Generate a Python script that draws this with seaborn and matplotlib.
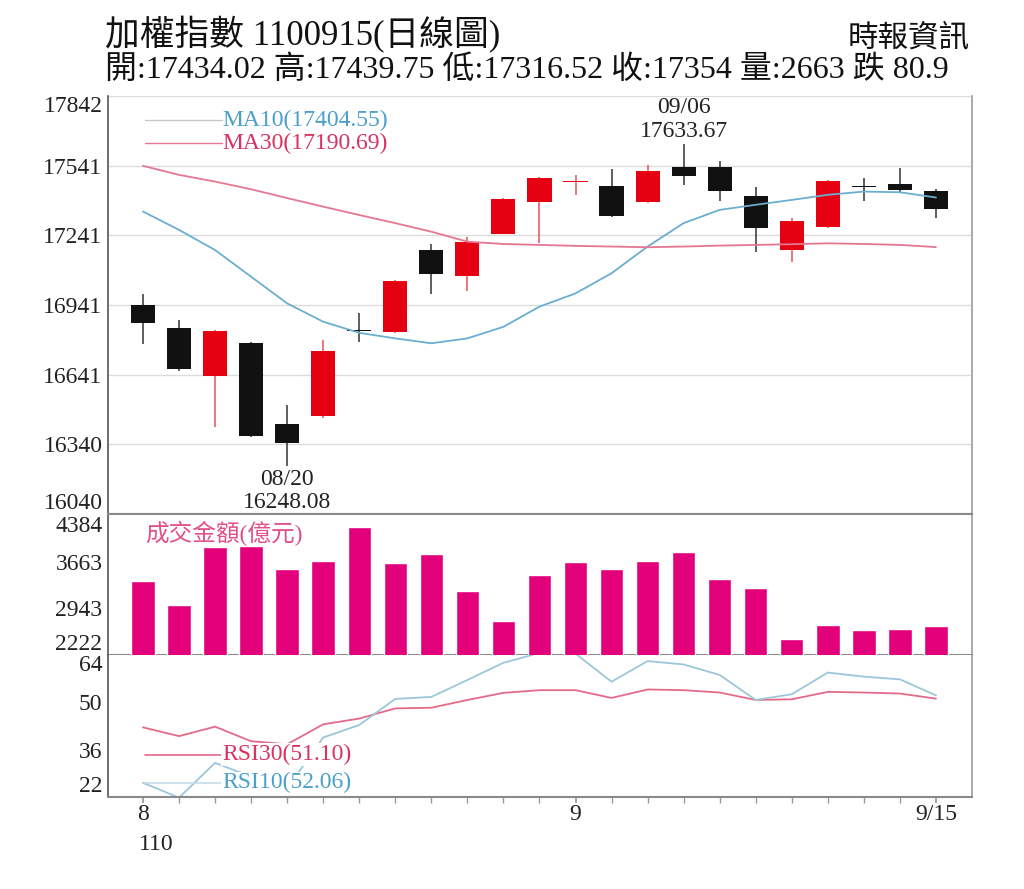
import matplotlib
matplotlib.use("Agg")
import matplotlib.pyplot as plt
import seaborn as sns

#-------------------------------------------------------------------------

# Trading days shown (Aug 16 - Sep 15, ROC year 110)
days = ["08/16", "08/17", "08/18", "08/19", "08/20", "08/23", "08/24", "08/25",
        "08/26", "08/27", "08/30", "08/31", "09/01", "09/02", "09/03", "09/06",
        "09/07", "09/08", "09/09", "09/10", "09/13", "09/14", "09/15"]

opens = [16941, 16842, 16636, 16778, 16430, 16462, 16835, 16826, 17178, 17067, 17247, 17387,
         17470, 17456, 17384, 17535, 17535, 17411, 17178, 17276, 17452, 17462, 17434.02]
highs = [16988, 16876, 16835, 16782, 16509, 16790, 16908, 17050, 17203, 17236, 17402, 17492,
         17502, 17527, 17545, 17633.67, 17563, 17449, 17315, 17480, 17488, 17531, 17439.75]
lows = [16773, 16656, 16416, 16370, 16248.08, 16455, 16782, 16822, 16988, 17001, 17245, 17210,
        17416, 17322, 17380, 17459, 17390, 17168, 17125, 17272, 17390, 17423, 17316.52]
closes = [16862, 16663, 16830, 16375, 16344, 16744, 16828, 17046, 17073, 17213, 17399, 17489,
          17476, 17325, 17519, 17499, 17433, 17275, 17304, 17476, 17448, 17434.9, 17354]

ma10 = [17344, 17265, 17178, 17063, 16948, 16869, 16821, 16797, 16776, 16797, 16847, 16934,
        16991, 17078, 17193, 17294, 17351, 17373, 17394, 17416, 17430, 17427, 17404.55]
ma30 = [17541, 17502, 17473, 17440, 17402, 17365, 17329, 17294, 17257, 17214, 17204, 17200,
        17196, 17193, 17190, 17193, 17197, 17200, 17203, 17207, 17204, 17200, 17190.69]

# Turnover (100 million NTD)
volume = [3369, 2990, 3905, 3912, 3562, 3691, 4210, 3655, 3796, 3213, 2741, 3468,
          3665, 3562, 3691, 3831, 3395, 3266, 2460, 2678, 2601, 2616, 2663]

rsi30 = [42.6, 40.0, 42.8, 38.5, 37.6, 43.5, 45.2, 48.2, 48.4, 50.7, 52.8, 53.6,
         53.6, 51.3, 53.8, 53.6, 52.9, 50.7, 50.9, 53.1, 52.9, 52.6, 51.10]
rsi10 = [26.2, 21.8, 32.1, 28.0, 24.5, 39.6, 43.3, 51.0, 51.6, 56.6, 61.7, 64.6,
         64.4, 56.1, 62.2, 61.2, 58.1, 50.7, 52.4, 58.8, 57.6, 56.8, 52.06]

price_ticks = [16040, 16340, 16641, 16941, 17241, 17541, 17842]
vol_ticks = [2222, 2943, 3663, 4384]
rsi_ticks = [22, 36, 50, 64]

#-------------------------------------------------------------------------

RED = "#e50012"
BLACK = "#111111"
BAR = "#e3007b"
MA10_C = "#6aaed0"
MA30_C = "#e57792"
BLUE_TXT = "#4b9fcb"
PINK_TXT = "#d9335f"
FONT = ["Liberation Serif", "Noto Sans CJK TC", "DejaVu Sans"]

sns.set_theme(style="white")
plt.rcParams["font.family"] = FONT

fig = plt.figure(figsize=(10.24, 8.89), dpi=100)
W, H = 1024.0, 889.0


def add_axes(top, bottom, left=108, right=972):
    return fig.add_axes([left / W, 1 - bottom / H, (right - left) / W, (bottom - top) / H])


ax = add_axes(96, 514)
ax_vol = add_axes(514, 654.5)
ax_rsi = add_axes(655, 797)

x = list(range(len(days)))
xlim = (-0.97, 23.0)

#-------------------------------------------------------------------------
# Candles

for i in x:
    o, h, l, c = opens[i], highs[i], lows[i], closes[i]
    up = c > o
    col = RED if up else BLACK
    wick = "#e8505a" if up else "#333333"
    ax.vlines(i, l, h, color=wick, lw=1.1, zorder=2)
    ax.bar(i, max(abs(c - o), 6), bottom=min(o, c), width=0.67, color=col, lw=0, zorder=3)

sns.lineplot(x=x, y=ma10, ax=ax, color=MA10_C, lw=1.3, zorder=4)
sns.lineplot(x=x, y=ma30, ax=ax, color=MA30_C, lw=1.3, zorder=4)

ax.set_xlim(*xlim)
ax.set_ylim(16040, 17842)
ax.set_yticks(price_ticks)
ax.set_yticklabels([str(t) for t in price_ticks])
ax.set_xticks([])
ax.grid(axis="y", color="#dcdcdc", lw=1)
ax.set_axisbelow(True)

# highest / lowest notes
ih = highs.index(max(highs))
il = lows.index(min(lows))
ax.annotate(f"{days[ih]}\n{highs[ih]:.2f}", xy=(ih, highs[ih]), xytext=(0, 2),
            textcoords="offset points", ha="center", va="bottom", fontsize=17,
            linespacing=1.15, color="#222222", zorder=6)
ax.annotate(f"{days[il]}\n{lows[il]:.2f}", xy=(il, lows[il]), xytext=(0, -2),
            textcoords="offset points", ha="center", va="top", fontsize=17,
            linespacing=1.15, color="#222222", zorder=6, annotation_clip=False)

# legend for MAs
ax.plot([0.043, 0.132], [0.9426, 0.9426], transform=ax.transAxes, color="#c8c8c8", lw=1)
ax.text(0.132, 0.9426, f"MA10({ma10[-1]:.2f})", transform=ax.transAxes, color=BLUE_TXT,
        fontsize=17, va="center", ha="left")
ax.plot([0.043, 0.132], [0.8876, 0.8876], transform=ax.transAxes, color=MA30_C, lw=1)
ax.text(0.132, 0.8876, f"MA30({ma30[-1]:.2f})", transform=ax.transAxes, color=PINK_TXT,
        fontsize=17, va="center", ha="left")

#-------------------------------------------------------------------------
# Turnover bars

sns.barplot(x=x, y=volume, ax=ax_vol, color=BAR, saturation=1, width=0.65, zorder=3)
ax_vol.set_xlim(*xlim)
ax_vol.set_ylim(2222, 4419)
ax_vol.set_yticks(vol_ticks)
ax_vol.set_yticklabels([str(t) for t in vol_ticks])
ax_vol.set_xticks([])
ax_vol.set_xlabel("")
ax_vol.set_ylabel("")
ax_vol.text(0.043, 0.86, "成交金額(億元)", transform=ax_vol.transAxes, color="#e0508a",
            fontsize=17, va="center", ha="left", zorder=5)

#-------------------------------------------------------------------------
# RSI

sns.lineplot(x=x, y=rsi30, ax=ax_rsi, color="#e36a8a", lw=1.3, zorder=2)
sns.lineplot(x=x, y=rsi10, ax=ax_rsi, color="#9cc7da", lw=1.3, zorder=2)
ax_rsi.set_xlim(*xlim)
ax_rsi.set_ylim(22, 64)
ax_rsi.set_yticks(rsi_ticks)
ax_rsi.set_yticklabels([str(t) for t in rsi_ticks])

ax_rsi.plot([0.043, 0.132], [0.298, 0.298], transform=ax_rsi.transAxes, color="#e36a8a", lw=1.2)
ax_rsi.text(0.132, 0.298, f"RSI30({rsi30[-1]:.2f})", transform=ax_rsi.transAxes, color=PINK_TXT,
            fontsize=17, va="center", ha="left", zorder=5,
            bbox=dict(facecolor="white", edgecolor="none", pad=0.5))
ax_rsi.plot([0.043, 0.132], [0.099, 0.099], transform=ax_rsi.transAxes, color="#c5dce6", lw=1.2)
ax_rsi.text(0.132, 0.099, f"RSI10({rsi10[-1]:.2f})", transform=ax_rsi.transAxes, color=BLUE_TXT,
            fontsize=17, va="center", ha="left", zorder=5,
            bbox=dict(facecolor="white", edgecolor="none", pad=0.5))

ax_rsi.set_xticks(x, minor=True)
ax_rsi.set_xticks([0, 12, 22])
ax_rsi.set_xticklabels(["8", "9", "9/15"])
ax_rsi.tick_params(axis="x", which="both", direction="out", length=4, color="#999999",
                   labelsize=17, pad=1, bottom=True)
ax_rsi.annotate("110", xy=(-0.1, 0), xycoords=("data", "axes fraction"), xytext=(0, -27),
                textcoords="offset points", ha="left", va="top", fontsize=17, color="#222222")

#-------------------------------------------------------------------------
# Shared styling

for a in (ax, ax_vol, ax_rsi):
    a.tick_params(axis="y", length=0, labelsize=17, pad=4, labelcolor="#222222")
    a.tick_params(axis="x", labelcolor="#222222")
    a.spines["left"].set_color("#555555")
    a.spines["left"].set_linewidth(1.2)
    a.spines["right"].set_color("#a0a0a0")
    a.spines["top"].set_visible(False)
    a.spines["bottom"].set_color("#8a8a8a")
    a.spines["bottom"].set_linewidth(1.5)
    labels = a.get_yticklabels()
    labels[0].set_va("bottom")
    labels[-1].set_va("top")
ax_vol.spines["top"].set_visible(True)
ax_vol.spines["top"].set_color("#8a8a8a")
ax_vol.spines["top"].set_linewidth(1.5)

#-------------------------------------------------------------------------
# Header

fig.text(105 / W, 1 - 35 / H, "加權指數 1100915(日線圖)", fontsize=25, ha="left", va="center",
         color="#111111")
fig.text(970 / W, 1 - 40 / H, "時報資訊", fontsize=22, ha="right", va="center", color="#111111")
fig.text(105 / W, 1 - 70 / H,
         f"開:{opens[-1]:.2f} 高:{highs[-1]:.2f} 低:{lows[-1]:.2f} 收:{closes[-1]:g} "
         f"量:{volume[-1]} 跌 {closes[-2] - closes[-1]:.1f}",
         fontsize=23, ha="left", va="center", color="#111111")

fig.savefig("out.png", dpi=100, facecolor="white")
